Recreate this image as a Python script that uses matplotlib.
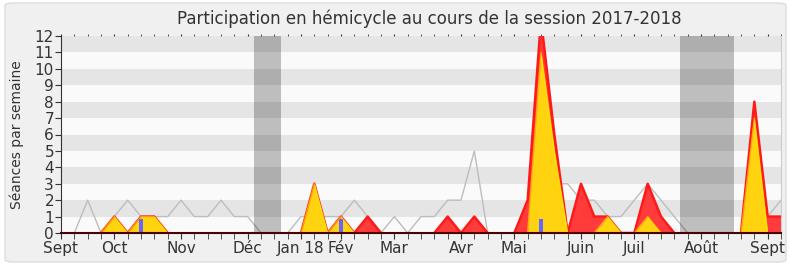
import numpy as np
import matplotlib.pyplot as plt
from matplotlib.patches import FancyBboxPatch

plt.switch_backend('Agg')

# semaines depuis debut septembre 2017
semaines = np.arange(55)
mediane = [0, 0, 2, 0, 1, 2, 1, 1, 1, 2, 1, 1, 2, 1, 1, 0, 0, 0, 1, 1,
           1, 1, 2, 1, 0, 1, 0, 1, 1, 2, 2, 5, 0, 0, 0, 2, 3, 3, 3, 2,
           2, 1, 1, 2, 3, 2, 1, 0, 0, 0, 0, 0, 2, 1, 2]
presences = [0, 0, 0, 0, 1, 0, 1, 1, 0, 0, 0, 0, 0, 0, 0, 0, 0, 0, 0, 3,
             0, 1, 0, 1, 0, 0, 0, 0, 0, 1, 0, 1, 0, 0, 0, 2, 13, 6, 0, 3,
             1, 1, 0, 0, 3, 1, 0, 0, 0, 0, 0, 0, 8, 1, 1]
interventions = [0, 0, 0, 0, 1, 0, 1, 1, 0, 0, 0, 0, 0, 0, 0, 0, 0, 0, 0, 3,
                 0, 1, 0, 0, 0, 0, 0, 0, 0, 0, 0, 0, 0, 0, 0, 0, 11, 5, 0, 0,
                 0, 1, 0, 0, 1, 0, 0, 0, 0, 0, 0, 0, 7, 0, 0]
questions_sem = [6, 21, 36]
questions_val = [0.87, 0.87, 0.87]
vacances = [(14.5, 16.5), (46.4, 50.5)]
mois_pos = [0, 4, 9, 14, 18, 21, 25, 30, 34, 39, 43, 48, 53]
mois_labels = ['Sept', 'Oct', 'Nov', 'Déc', 'Jan 18', 'Fév', 'Mar', 'Avr',
               'Mai', 'Juin', 'Juil', 'Août', 'Sept']


def sans_zeros(valeurs):
    # on cache les segments a zero pour garder la ligne de base sombre
    v = np.array(valeurs, dtype=float)
    voisins = np.maximum(np.r_[v[1:], 0], np.r_[0, v[:-1]])
    return np.ma.masked_where((v == 0) & (voisins == 0), v)


fig = plt.figure(figsize=(7.9, 2.67), dpi=100, facecolor='white')
cadre = FancyBboxPatch((5 / 790, 5 / 267), 781 / 790, 259 / 267,
                       boxstyle='round,pad=0,rounding_size=0.01',
                       transform=fig.transFigure, facecolor='#f0f0f0',
                       edgecolor='#dcdcdc', linewidth=1, zorder=-10)
fig.patches.append(cadre)

ax = fig.add_axes([61 / 790, 34 / 267, 720 / 790, 197 / 267])
ax.set_facecolor('#fafafa')
for y in range(1, 12, 2):
    ax.axhspan(y, y + 1, color='#e5e5e5', lw=0, zorder=0)
for debut, fin in vacances:
    ax.axvspan(debut, fin, color='black', alpha=0.24, lw=0, zorder=5)

ax.plot(semaines, mediane, color='#bdbdbd', lw=1, zorder=1)
ax.fill_between(semaines, presences, color='#ff3b3b', lw=0, zorder=2)
ax.plot(semaines, sans_zeros(presences), color='#ff1a1a', lw=1.8, zorder=2)
ax.fill_between(semaines, interventions, color='#ffd30f', lw=0, zorder=3)
ax.plot(semaines, sans_zeros(interventions), color='#ffee00', lw=1, alpha=0.6, zorder=3)
ax.bar(questions_sem, questions_val, width=0.3, color='#6666ff', zorder=4)

ax.set_xlim(0, 54)
ax.set_ylim(0, 12)
ax.set_yticks(range(13))
ax.set_xticks(mois_pos)
ax.set_xticklabels(mois_labels)
ax.set_xticks(semaines, minor=True)
ax.tick_params(axis='y', labelsize=11, labelcolor='#333333', length=4,
               color='#333333', pad=1)
ax.tick_params(axis='x', which='both', labelsize=11, labelcolor='#333333',
               length=4, color='#333333', pad=2, direction='out')
ax.tick_params(axis='x', which='both', top=True)
for t in ax.xaxis.get_ticklines(minor=True) + ax.xaxis.get_ticklines():
    if t.get_marker() == 2:  # ticks du haut : petits points
        t.set_markersize(1.5)
ax.spines['top'].set_visible(False)
ax.spines['right'].set_color('#cccccc')
ax.spines['left'].set_color('#333333')
ax.spines['bottom'].set_color('#4a0000')
ax.spines['bottom'].set_linewidth(1.5)
for spine in ax.spines.values():
    spine.set_zorder(10)
ax.set_ylabel('Séances par semaine', fontsize=10, color='#333333')
ax.yaxis.set_label_coords(-0.052, 0.5)

fig.text(429 / 790, 248 / 267, 'Participation en hémicycle au cours de la session 2017-2018',
         ha='center', va='center', fontsize=12, color='#333333')

fig.savefig('out.png', dpi=100, facecolor=fig.get_facecolor())
